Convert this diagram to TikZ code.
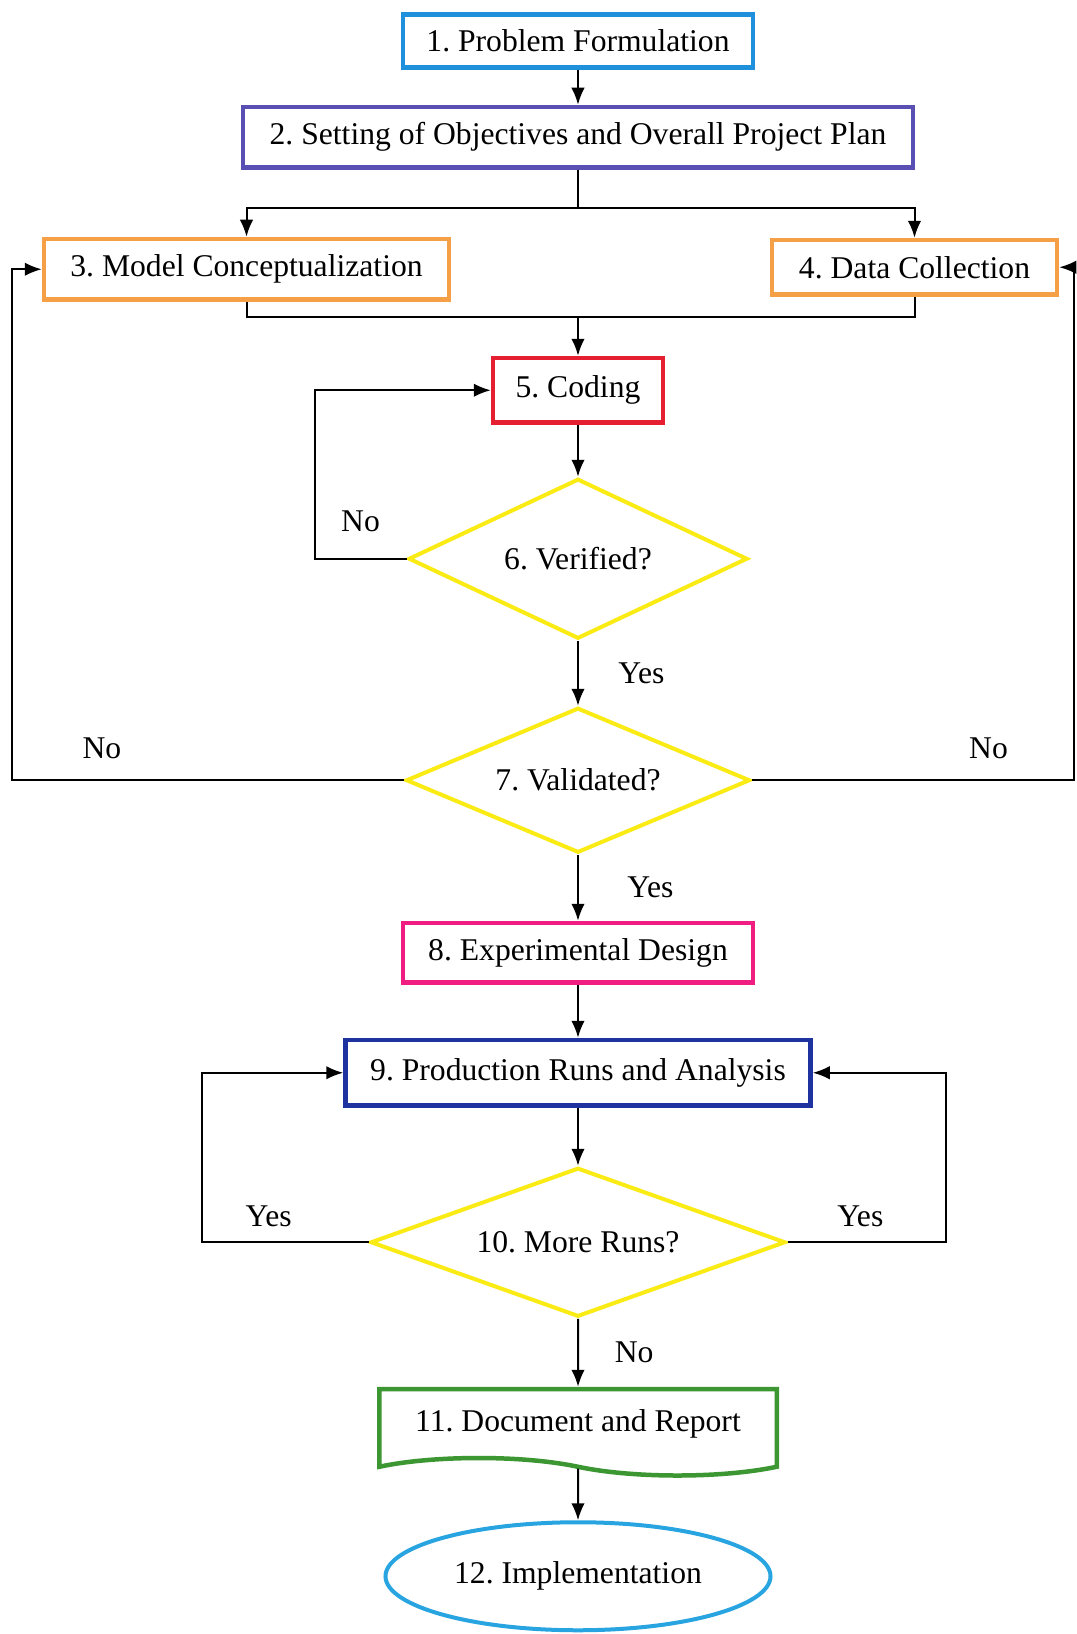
\documentclass[tikz,border=0pt]{standalone}
\usepackage{fontspec}
\setmainfont{Liberation Serif}
\usepackage{xcolor}
\usetikzlibrary{arrows.meta,positioning,shapes.geometric,shapes.symbols}

\definecolor{probblue}{RGB}{30,144,220}
\definecolor{planpurple}{RGB}{90,80,180}
\definecolor{modelorange}{RGB}{245,160,70}
\definecolor{codered}{RGB}{230,30,50}
\definecolor{decyellow}{RGB}{250,235,20}
\definecolor{designpink}{RGB}{240,30,130}
\definecolor{runsblue}{RGB}{30,50,160}
\definecolor{reportgreen}{RGB}{60,150,50}
\definecolor{implblue}{RGB}{40,165,225}

\frenchspacing

\begin{document}
\begin{tikzpicture}[
        node distance=1cm,
        font=\fontsize{18}{21}\selectfont,
        box/.style={draw, line width=0.09cm, fill=white, inner sep=4pt},
        decision/.style={diamond, draw=decyellow, line width=0.08cm, fill=white, inner sep=1pt},
        flow/.style={->, line width=0.04cm},
        wire/.style={line width=0.04cm},
        >={Latex[length=0.34cm,width=0.27cm]}]

        \useasboundingbox (0,0) rectangle (21.54,-32.68);

        % Nodes
        \node[box, draw=probblue, minimum width=7.0cm, minimum height=1.06cm] (problem) at (11.56,-0.82) {1. Problem Formulation};

        \node[box, draw=planpurple, minimum width=13.4cm, minimum height=1.21cm, below=0.7cm of problem] (plan) {2. Setting of Objectives and Overall Project Plan};

        \node[box, draw=modelorange, minimum width=8.1cm, minimum height=1.21cm, below=1.34cm of plan.south west, anchor=north west, xshift=-3.98cm] (concept) {3. Model Conceptualization};

        \node[box, draw=modelorange, minimum width=5.7cm, minimum height=1.09cm, below=1.36cm of plan.south east, anchor=north east, xshift=2.88cm] (data) {4. Data Collection};

        \node[box, draw=codered, minimum width=3.4cm, minimum height=1.29cm, below=3.72cm of plan] (coding) {5. Coding};

        \node[decision, aspect=2.1, minimum width=6.78cm, minimum height=3.2cm, below=1.04cm of coding] (verify) {6. Verified?};

        \node[decision, aspect=2.34, minimum width=6.88cm, minimum height=2.9cm, below=1.3cm of verify] (validate) {7. Validated?};

        \node[box, draw=designpink, minimum width=7.0cm, minimum height=1.19cm, below=1.32cm of validate] (design) {8. Experimental Design};

        \node[box, draw=runsblue, minimum width=9.3cm, minimum height=1.31cm, below=1.06cm of design] (runs) {9. Production Runs and Analysis};

        \node[decision, aspect=2.74, minimum width=8.3cm, minimum height=2.98cm, below=1.16cm of runs] (more) {10. More Runs?};

        \node[tape, draw=reportgreen, line width=0.09cm, fill=white, tape bend top=none, tape bend bottom=out and in, tape bend height=0.35cm, minimum width=7.95cm, minimum height=1.73cm, below=1.36cm of more] (report) {11. Document and Report};

        \node[ellipse, draw=implblue, line width=0.08cm, fill=white, minimum width=7.7cm, minimum height=2.16cm, below=1.2cm of report] (impl) {12. Implementation};

        \coordinate[below=0.76cm of plan] (split);
        \coordinate[above=0.78cm of coding] (merge);

        % Edges
        \draw[flow] (problem) -- (plan);
        \draw[wire] (plan) -- (split);
        \draw[flow] (split) -| (concept);
        \draw[flow] (split) -| (data);
        \draw[wire] (concept) |- (merge) -| (data);
        \draw[flow] (merge) -- (coding);
        \draw[flow] (coding) -- (verify);
        \draw[flow] (verify) -- node[right=0.67cm]{Yes} (validate);
        \draw[flow] (validate) -- node[right=0.85cm]{Yes} (design);
        \draw[flow] (design) -- (runs);
        \draw[flow] (runs) -- (more);
        \draw[flow] (more) -- node[right=0.6cm]{No} (report);
        \draw[flow] (report) -- (impl);

        \draw[flow] (verify.west) -- node[above=0.4cm]{No} ++(-1.84,0) |- (coding.west);
        \draw[flow] (validate.west) -| node[pos=0.385, above=0.3cm]{No} ([xshift=-0.6cm]concept.west) -- (concept.west);
        \draw[flow] (validate.east) -| node[pos=0.367, above=0.3cm]{No} ([xshift=0.3cm]data.east) -- (data.east);
        \draw[flow] (more.west) -| node[pos=0.3, above=0.18cm]{Yes} ([xshift=-2.82cm]runs.west) -- (runs.west);
        \draw[flow] (more.east) -| node[pos=0.23, above=0.18cm]{Yes} ([xshift=2.66cm]runs.east) -- (runs.east);

\end{tikzpicture}
\end{document}
